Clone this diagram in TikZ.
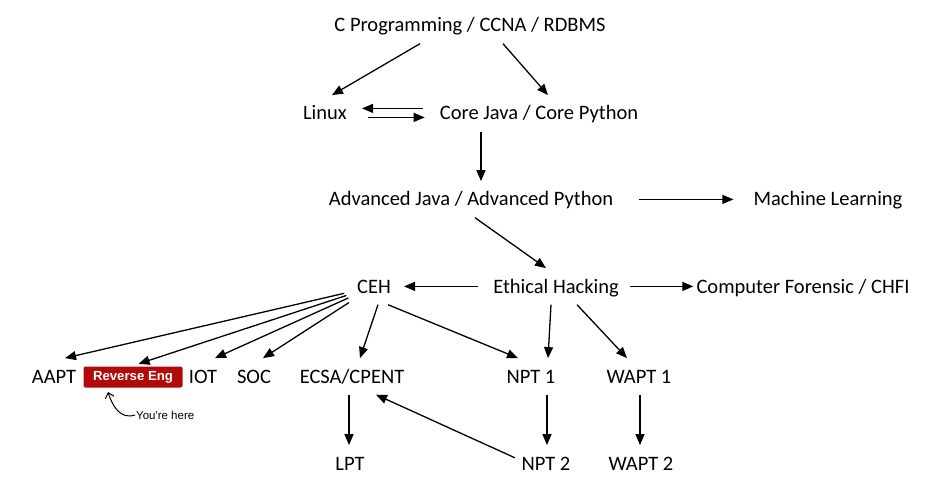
\documentclass[tikz,border=0pt]{standalone}
\usepackage{fontspec}
\setmainfont{Carlito}
\newfontfamily\arialfont{Liberation Sans}
\usetikzlibrary{arrows.meta}
\definecolor{revR}{RGB}{178,10,10}

\begin{document}
\begin{tikzpicture}[x=1pt,y=-1pt,>={Triangle[length=11pt,width=9pt]},
  lbl/.style={font=\fontsize{20.5}{24}\selectfont,inner xsep=3pt,inner ysep=11.5pt,text height=13.2pt,text depth=0pt},
  arr/.style={->,line width=1.3pt}]
\useasboundingbox (0,0) rectangle (930,492);
\node[lbl] (top) at (470,32) [anchor=base] {C Programming / CCNA / RDBMS};
\node[lbl] (linux) at (325,120) [anchor=base] {Linux};
\node[lbl] (core) at (539,120) [anchor=base] {Core Java / Core Python};
\node[lbl] (adv) at (471,206) [anchor=base] {Advanced Java / Advanced Python};
\node[lbl] (ml) at (828,206) [anchor=base] {Machine Learning};
\node[lbl] (ceh) at (374,293) [anchor=base] {CEH};
\node[lbl] (eh) at (556,293) [anchor=base] {Ethical Hacking};
\node[lbl] (chfi) at (803,293) [anchor=base] {Computer Forensic / CHFI};
\node[lbl] (aapt) at (54,383) [anchor=base] {AAPT};
\node[fill=revR,rounded corners=2pt,text=white,font=\arialfont\bfseries\fontsize{13.2}{15}\selectfont,minimum width=99pt,minimum height=21pt,inner sep=0pt] (rev) at (133,377) {Reverse Eng};
\node[lbl] (iot) at (203,383) [anchor=base] {IOT};
\node[lbl] (soc) at (254,383) [anchor=base] {SOC};
\node[lbl] (ecsa) at (352,383) [anchor=base] {ECSA/CPENT};
\node[lbl] (npta) at (531,383) [anchor=base] {NPT 1};
\node[lbl] (wapta) at (639,383) [anchor=base] {WAPT 1};
\node[lbl] (lpt) at (350,470) [anchor=base] {LPT};
\node[lbl] (nptb) at (546,470) [anchor=base] {NPT 2};
\node[lbl] (waptb) at (641,470) [anchor=base] {WAPT 2};
\node[font=\arialfont\fontsize{11.5}{13}\selectfont,inner sep=1pt,anchor=west] (here) at (135,415) {You're here};
\coordinate (revtip) at (108,392);
\draw[arr] ([xshift=-50pt]top.south) -- ([xshift=7pt]linux.north);
\draw[arr] ([xshift=33pt]top.south) -- ([xshift=9pt]core.north);
\draw[arr,shorten <=14pt,shorten >=12pt] ([yshift=5pt]core.west) -- ([yshift=5pt]linux.east);
\draw[arr,shorten <=18pt,shorten >=12pt] ([yshift=-4pt]linux.east) -- ([yshift=-4pt]core.west);
\draw[arr] ([xshift=-58pt]core.south) -- ([xshift=10pt]adv.north);
\draw[arr,shorten <=23pt,shorten >=17pt] (adv.east) -- (ml.west);
\draw[arr] ([xshift=4pt]adv.south) -- ([xshift=-10pt]eh.north);
\draw[arr,shorten <=12pt,shorten >=10pt] (eh.west) -- (ceh.east);
\draw[arr,shorten <=8pt] (eh.east) -- (chfi.west);
\draw[arr,shorten <=10pt] (ceh) -- ([xshift=11pt]aapt.north);
\draw[arr,shorten <=8pt,shorten >=8pt] (ceh) -- ([xshift=-2pt]rev.north);
\draw[arr,shorten <=6pt] (ceh) -- ([xshift=12pt]iot.north);
\draw[arr,shorten <=6pt] (ceh) -- ([xshift=9pt]soc.north);
\draw[arr] ([xshift=4pt]ceh.south) -- ([xshift=8pt]ecsa.north);
\draw[arr] ([xshift=14pt]ceh.south) -- ([xshift=-13pt]npta.north);
\draw[arr] ([xshift=-5pt]eh.south) -- ([xshift=17pt]npta.north);
\draw[arr] ([xshift=21pt]eh.south) -- ([xshift=-12pt]wapta.north);
\draw[arr] ([xshift=-3pt]ecsa.south) -- ([xshift=-1pt]lpt.north);
\draw[arr] ([xshift=16pt]npta.south) -- ([xshift=1pt]nptb.north);
\draw[arr] ([xshift=1pt]wapta.south) -- ([xshift=-1pt]waptb.north);
\draw[arr,shorten <=4pt] ([yshift=4pt]nptb.west) -- ([xshift=24pt]ecsa.south);
\draw[-{Straight Barb[length=5pt,width=9pt]},line width=1pt] (here.west) .. controls (120,420) and (112,405) .. (revtip);
\end{tikzpicture}
\end{document}
